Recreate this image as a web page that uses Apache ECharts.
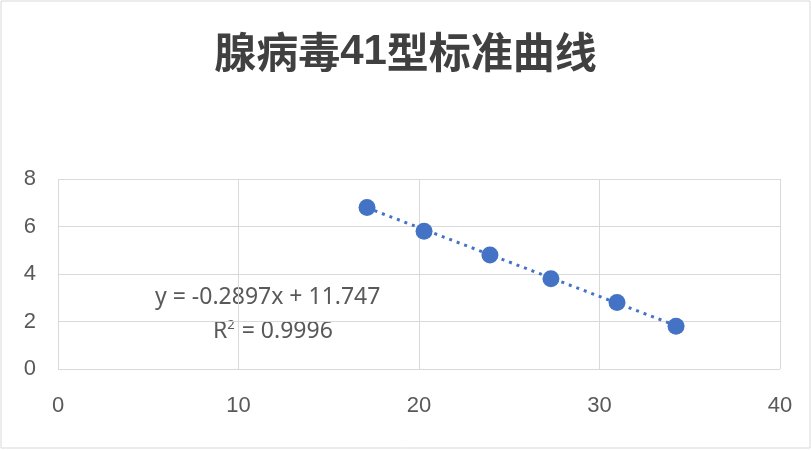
<!DOCTYPE html>
<html><head><meta charset="utf-8">
<script src="https://cdn.jsdelivr.net/npm/echarts@6/dist/echarts.min.js"></script>
<style>html,body{margin:0;padding:0;background:#fff}#c{width:811px;height:450px}</style>
</head><body><div id="c"></div>
<script>
const ctValues = [17.12, 20.28, 23.93, 27.31, 30.97, 34.24];
const logConc = [6.8, 5.8, 4.8, 3.8, 2.8, 1.8];
const slope = -0.2897, intercept = 11.747;
const xTicks = [0, 10, 20, 30, 40];
const yTicks = [0, 2, 4, 6, 8];
const trendX = [ctValues[0], ctValues[ctValues.length - 1]];
const trend = trendX.map(x => [x, slope * x + intercept]);
const chart = echarts.init(document.getElementById('c'));
const tf = { fontFamily: 'Noto Sans CJK SC', fontSize: 42, color: '#404040' };
chart.setOption({
  animation: false,
  title: {
    text: '{a|腺病毒}{b|41}{a|型标准曲线}', left: 'center', top: 26,
    textStyle: { rich: { a: Object.assign({}, tf), b: Object.assign({ fontWeight: 'bold', fontFamily: 'Liberation Sans' }, tf, { fontFamily: 'Liberation Sans' }) } }
  },
  grid: { left: 58, right: 31, top: 179, bottom: 81 },
  xAxis: {
    type: 'value', min: xTicks[0], max: xTicks[xTicks.length - 1], interval: 10,
    axisLine: { show: false }, axisTick: { show: false },
    splitLine: { lineStyle: { color: '#d9d9d9' } },
    axisLabel: { fontSize: 22, color: '#595959', margin: 26, fontFamily: 'Liberation Sans' }
  },
  yAxis: {
    type: 'value', min: yTicks[0], max: yTicks[yTicks.length - 1], interval: 2,
    axisLine: { show: false }, axisTick: { show: false },
    splitLine: { lineStyle: { color: '#d9d9d9' } },
    axisLabel: { fontSize: 22, color: '#595959', margin: 22, fontFamily: 'Liberation Sans' }
  },
  graphic: [
    { type: 'rect', shape: { x: 1, y: 1, width: 809, height: 447 }, style: { fill: 'none', stroke: '#d9d9d9', lineWidth: 1 } },
    { type: 'text', left: 155, top: 286, style: { text: 'y = -0.2897x + 11.747', fontSize: 23, fill: '#595959', fontFamily: 'Noto Sans' } },
    { type: 'text', left: 213, top: 319, style: { rich: { a: { fontSize: 23, fill: '#595959', fontFamily: 'Noto Sans' }, s: { fontSize: 13, fill: '#595959', fontFamily: 'Noto Sans', verticalAlign: 'top', padding: [0, 1, 12, 0] } }, text: '{a|R}{s|2}{a| = 0.9996}' } }
  ],
  series: [
    { type: 'line', data: trend, symbol: 'none', lineStyle: { color: '#4472C4', width: 3, type: [3, 5] }, silent: true, z: 1 },
    { type: 'scatter', data: ctValues.map((x, i) => [x, logConc[i]]), symbolSize: 17, itemStyle: { color: '#4472C4', opacity: 1 }, z: 3 }
  ]
});
</script></body></html>
